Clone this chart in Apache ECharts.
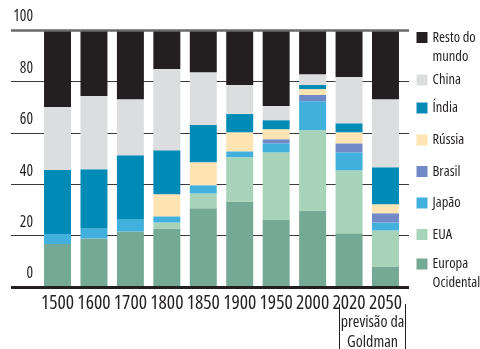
<!DOCTYPE html>
<html>
<head>
<meta charset="utf-8">
<script src="https://cdn.jsdelivr.net/npm/echarts@6/dist/echarts.min.js"></script>
<style>
  html, body { margin: 0; padding: 0; background: #fff; }
  #chart { width: 480px; height: 349px; }
</style>
</head>
<body>
<div id="chart"></div>
<script>
// Share of world output by region, per cent
const categories = ['1500', '1600', '1700', '1800', '1850', '1900', '1950', '2000', '2020', '2050'];
const europaOcidental = [16.7, 18.9, 21.6, 22.8, 30.6, 33.3, 26.3, 29.8, 20.9, 8.0];
const eua = [0, 0, 0, 2.3, 5.8, 17.2, 26.1, 31.2, 24.5, 14.0];
const japao = [3.9, 3.9, 4.7, 2.4, 3.2, 2.3, 3.5, 11.3, 7.0, 3.1];
const brasil = [0, 0, 0, 0, 0, 0, 1.6, 2.4, 3.5, 3.6];
const russia = [0, 0, 0, 8.6, 8.9, 7.4, 3.9, 2.3, 4.3, 3.5];
const india = [24.9, 23.0, 25.0, 17.1, 14.5, 7.1, 3.5, 1.6, 3.5, 14.4];
const china = [24.5, 28.5, 21.8, 31.6, 20.6, 11.3, 5.5, 4.2, 18.0, 26.5];
const restoDoMundo = [30.0, 25.7, 26.9, 15.2, 16.4, 21.4, 29.6, 17.2, 18.3, 26.9];
const yTickLabels = ['0', '20', '40', '60', '80', '100'];

// condensed cut of Open Sans (variable width axis)
const FONT = '"Open Sans", sans-serif';
const STRETCH = 'condensed';
const INK = '#231f20';

// stacking order, bottom to top
const stack = [
  { name: 'Europa\nOcidental', data: europaOcidental, color: '#74a996' },
  { name: 'EUA', data: eua, color: '#a7d3b8' },
  { name: 'Japão', data: japao, color: '#42b0dc' },
  { name: 'Brasil', data: brasil, color: '#7189c6' },
  { name: 'Rússia', data: russia, color: '#fde4b2' },
  { name: 'Índia', data: india, color: '#008bb6' },
  { name: 'China', data: china, color: '#dcdddf' },
  { name: 'Resto do\nmundo', data: restoDoMundo, color: INK }
];

// vertical centre of each legend swatch
const legendCentres = {
  'Resto do\nmundo': 37.5, 'China': 80, 'Índia': 108, 'Rússia': 140,
  'Brasil': 171.5, 'Japão': 203, 'EUA': 234.5, 'Europa\nOcidental': 264
};
const LH = 19;

// one legend block per entry; two-line names get a blank lead line so the
// swatch sits level with their first line
const legends = stack.map(s => {
  const twoLine = s.name.indexOf('\n') >= 0;
  const h = twoLine ? LH * 3 : LH;
  return {
    orient: 'vertical', left: 416.5, top: legendCentres[s.name] - h / 2,
    padding: 0, itemGap: 0, itemWidth: 11, itemHeight: 11,
    selectedMode: false,
    data: [{ name: s.name, icon: 'rect' }],
    formatter: (n) => (twoLine ? ' \n' + n : n),
    textStyle: {
      fontFamily: FONT, fontStyle: STRETCH, fontSize: 14.5, color: INK, lineHeight: LH
    }
  };
});

const chart = echarts.init(document.getElementById('chart'));

const option = {
  animation: false,
  backgroundColor: '#fff',
  legend: legends,
  grid: [
    // full-width grid that carries the horizontal rules and y labels
    { left: 11, right: 71, top: 30, bottom: 62 },
    // grid holding the bars
    { left: 39.3, right: 76.3, top: 30, bottom: 62 }
  ],
  xAxis: [
    { gridIndex: 0, type: 'value', show: false, min: 0, max: 1 },
    {
      gridIndex: 1, type: 'category', data: categories,
      axisLine: { show: false }, axisTick: { show: false },
      axisLabel: {
        interval: 0, margin: 6, fontFamily: FONT, fontStyle: STRETCH,
        fontSize: 19.5, color: INK, hideOverlap: false
      }
    }
  ],
  yAxis: [
    {
      gridIndex: 0, type: 'value', min: 0, max: 100, interval: 20,
      axisLine: { show: false }, axisTick: { show: false },
      splitLine: { show: true, lineStyle: { color: '#3a3a3a', width: 1.2 } },
      axisLabel: {
        inside: true, margin: 22, align: 'right', verticalAlign: 'bottom',
        lineHeight: 26,
        fontFamily: FONT, fontStyle: STRETCH, fontSize: 15.5, color: INK,
        formatter: (v) => yTickLabels[v / 20]
      }
    },
    {
      gridIndex: 1, type: 'value', min: 0, max: 100, interval: 20, show: false,
      splitLine: { show: false }
    }
  ],
  series: stack.map(s => ({
    name: s.name, type: 'bar', stack: 'total',
    xAxisIndex: 1, yAxisIndex: 1,
    barWidth: '74%',
    data: s.data,
    itemStyle: { color: s.color },
    emphasis: { disabled: true }
  })).concat([{
    // top rule and heavy baseline
    type: 'line', xAxisIndex: 0, yAxisIndex: 0, data: [], z: 10,
    silent: true,
    markLine: {
      silent: true, symbol: ['none', 'none'], label: { show: false },
      animation: false,
      data: [
        { yAxis: 100, lineStyle: { color: '#6a6a6a', width: 2.5, type: 'solid' } },
        { yAxis: 0, lineStyle: { color: INK, width: 3, type: 'solid' } }
      ]
    }
  }]),
  graphic: [
    {
      type: 'line', shape: { x1: 339.5, y1: 304, x2: 339.5, y2: 349 },
      style: { stroke: INK, lineWidth: 1 }
    },
    {
      type: 'line', shape: { x1: 405.5, y1: 304, x2: 405.5, y2: 349 },
      style: { stroke: INK, lineWidth: 1 }
    },
    {
      type: 'text', x: 372.5, y: 322,
      style: {
        text: 'previsão da', fontFamily: FONT, fontStyle: STRETCH, fontSize: 16,
        fill: INK, align: 'center', verticalAlign: 'middle'
      }
    },
    {
      type: 'text', x: 372.5, y: 342,
      style: {
        text: 'Goldman', fontFamily: FONT, fontStyle: STRETCH, fontSize: 16,
        fill: INK, align: 'center', verticalAlign: 'middle'
      }
    }
  ]
};

chart.setOption(option);
</script>
</body>
</html>
